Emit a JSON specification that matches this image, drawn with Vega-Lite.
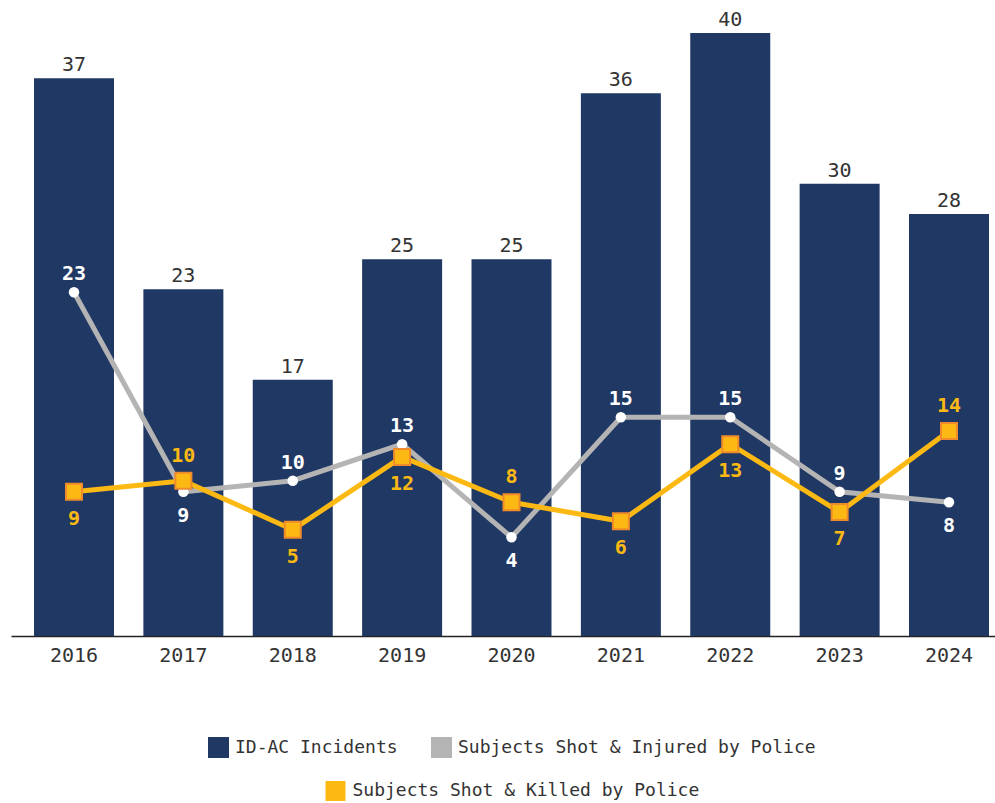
{
  "$schema": "https://vega.github.io/schema/vega-lite/v6.json",
  "width": 1001,
  "height": 603,
  "autosize": {"type": "none"},
  "padding": {"left": 11, "top": 33, "right": 0, "bottom": 167},
  "background": "white",
  "config": {
    "view": {"stroke": null},
    "font": "DejaVu Sans Mono",
    "legend": {
      "layout": {"bottom": {"anchor": "middle", "direction": "vertical", "center": true, "margin": 22}}
    }
  },
  "data": {
    "values": [
      {"year": "2016", "incidents": 37, "injured": 23, "killed": 9},
      {"year": "2017", "incidents": 23, "injured": 9, "killed": 10},
      {"year": "2018", "incidents": 17, "injured": 10, "killed": 5},
      {"year": "2019", "incidents": 25, "injured": 13, "killed": 12},
      {"year": "2020", "incidents": 25, "injured": 4, "killed": 8},
      {"year": "2021", "incidents": 36, "injured": 15, "killed": 6},
      {"year": "2022", "incidents": 40, "injured": 15, "killed": 13},
      {"year": "2023", "incidents": 30, "injured": 9, "killed": 7},
      {"year": "2024", "incidents": 28, "injured": 8, "killed": 14}
    ]
  },
  "resolve": {"scale": {"y": "independent"}},
  "layer": [
    {
      "layer": [
        {
          "mark": {"type": "bar"},
          "encoding": {
            "x": {
              "field": "year", "type": "ordinal",
              "scale": {"paddingInner": 0.2686, "paddingOuter": 0.2103},
              "axis": {
                "title": null, "labelAngle": 0, "ticks": false,
                "domainColor": "#222222", "domainWidth": 1.5,
                "labelFontSize": 20, "labelColor": "#333333", "labelPadding": 9,
                "labelFont": "DejaVu Sans Mono"
              }
            },
            "y": {"field": "incidents", "type": "quantitative", "scale": {"domain": [0, 40], "nice": false}, "axis": null},
            "color": {
              "datum": "ID-AC Incidents", "type": "nominal",
              "scale": {"domain": ["ID-AC Incidents", "Subjects Shot & Injured by Police"], "range": ["#203864", "#B4B4B4"]},
              "legend": {
                "title": null, "orient": "bottom", "direction": "horizontal", "offset": 72,
                "symbolType": "square", "symbolSize": 441, "symbolOpacity": 1, "symbolStrokeWidth": 0,
                "labelFontSize": 18, "labelColor": "#333333", "labelFont": "DejaVu Sans Mono",
                "labelOffset": 6, "columnPadding": 33, "labelLimit": 500
              }
            }
          }
        },
        {
          "mark": {"type": "text", "dy": -7, "baseline": "alphabetic", "fontSize": 20, "color": "#333333"},
          "encoding": {
            "x": {"field": "year", "type": "ordinal"},
            "y": {"field": "incidents", "type": "quantitative", "scale": {"domain": [0, 40], "nice": false}},
            "text": {"field": "incidents", "type": "quantitative"}
          }
        }
      ]
    },
    {
      "encoding": {
        "x": {"field": "year", "type": "ordinal"}
      },
      "layer": [
        {
          "mark": {"type": "line", "color": "#B4B4B4", "strokeWidth": 5},
          "encoding": {
            "y": {"field": "injured", "type": "quantitative", "scale": {"type": "pow", "exponent": 1.5, "domain": [-10.33, 36.28], "nice": false, "zero": false}, "axis": null}
          }
        },
        {
          "mark": {"type": "line", "color": "#FDB913", "strokeWidth": 5},
          "encoding": {
            "y": {"field": "killed", "type": "quantitative"}
          }
        },
        {
          "mark": {"type": "circle", "color": "#FFFFFF", "opacity": 1, "size": 110},
          "encoding": {
            "y": {"field": "injured", "type": "quantitative"}
          }
        },
        {
          "mark": {"type": "point", "filled": true, "fill": "#FDB913", "stroke": "#F08A2B", "strokeWidth": 2, "size": 256, "opacity": 1},
          "encoding": {
            "y": {"field": "killed", "type": "quantitative"},
            "shape": {
              "datum": "Subjects Shot & Killed by Police", "type": "nominal",
              "scale": {"range": ["square"]},
              "legend": {
                "title": null, "orient": "bottom", "direction": "horizontal", "offset": 72,
                "symbolSize": 400, "symbolFillColor": "#FDB913", "symbolStrokeColor": "#F08A2B", "symbolStrokeWidth": 2, "symbolOpacity": 1,
                "labelFontSize": 18, "labelColor": "#333333", "labelFont": "DejaVu Sans Mono",
                "labelOffset": 6, "labelLimit": 500,
                "encode": {"symbols": {"update": {"fill": {"value": "#FDB913"}, "stroke": {"value": "#F08A2B"}, "strokeWidth": {"value": 2}}}}
              }
            }
          }
        },
        {
          "transform": [{"filter": "datum.injured > datum.killed"}],
          "mark": {"type": "text", "dy": -12, "baseline": "alphabetic", "fontSize": 20, "fontWeight": "bold", "color": "#FFFFFF"},
          "encoding": {
            "y": {"field": "injured", "type": "quantitative"},
            "text": {"field": "injured", "type": "quantitative"}
          }
        },
        {
          "transform": [{"filter": "datum.injured < datum.killed"}],
          "mark": {"type": "text", "dy": 30, "baseline": "alphabetic", "fontSize": 20, "fontWeight": "bold", "color": "#FFFFFF"},
          "encoding": {
            "y": {"field": "injured", "type": "quantitative"},
            "text": {"field": "injured", "type": "quantitative"}
          }
        },
        {
          "transform": [{"filter": "datum.killed > datum.injured"}],
          "mark": {"type": "text", "dy": -19, "baseline": "alphabetic", "fontSize": 20, "fontWeight": "bold", "color": "#FDB913"},
          "encoding": {
            "y": {"field": "killed", "type": "quantitative"},
            "text": {"field": "killed", "type": "quantitative"}
          }
        },
        {
          "transform": [{"filter": "datum.killed < datum.injured"}],
          "mark": {"type": "text", "dy": 33, "baseline": "alphabetic", "fontSize": 20, "fontWeight": "bold", "color": "#FDB913"},
          "encoding": {
            "y": {"field": "killed", "type": "quantitative"},
            "text": {"field": "killed", "type": "quantitative"}
          }
        }
      ]
    }
  ]
}
